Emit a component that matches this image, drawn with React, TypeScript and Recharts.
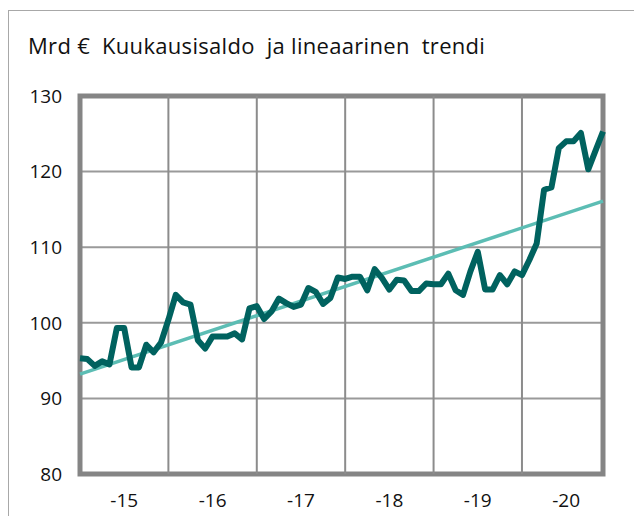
import {
  CartesianGrid,
  Line,
  LineChart,
  ReferenceArea,
  ReferenceLine,
  XAxis,
  YAxis,
} from "recharts";

// monthly balance, Jan 2015 .. Dec 2020 (bn €)
const balance2015 = [95.3, 95.2, 94.3, 94.9, 94.5, 99.3, 99.3, 94.1, 94.1, 97.1, 96.1, 97.4];
const balance2016 = [100.4, 103.7, 102.7, 102.4, 97.7, 96.6, 98.2, 98.2, 98.2, 98.6, 97.8, 101.9];
const balance2017 = [102.2, 100.5, 101.5, 103.2, 102.6, 102.1, 102.4, 104.6, 104.1, 102.5, 103.3, 106.0];
const balance2018 = [105.8, 106.1, 106.1, 104.3, 107.1, 105.9, 104.4, 105.7, 105.6, 104.2, 104.2, 105.2];
const balance2019 = [105.1, 105.1, 106.5, 104.3, 103.7, 106.8, 109.4, 104.4, 104.4, 106.3, 105.1, 106.8];
const balance2020 = [106.3, 108.3, 110.5, 117.6, 117.9, 123.1, 124.0, 124.0, 125.1, 120.3, 122.8, 125.3];

// linear trend, read at the first and last month
const trendStart = 93.2;
const trendEnd = 116.1;

const yearLabels = ["-15", "-16", "-17", "-18", "-19", "-20"];
const yearStarts = [12, 24, 36, 48, 60];
const yTicks = [80, 90, 100, 110, 120, 130];

const balance = [
  ...balance2015,
  ...balance2016,
  ...balance2017,
  ...balance2018,
  ...balance2019,
  ...balance2020,
];
const last = balance.length - 1;

const data = balance.map((v, i) => ({
  i,
  balance: v,
  trend: i === 0 ? trendStart : i === last ? trendEnd : null,
}));

// label sits in the middle of each year
const labelTicks = yearLabels.map((_, k) => k * 12 + 6);

const font = "'Open Sans', sans-serif";

export default function App() {
  return (
    <div style={{ position: "relative", width: 634, height: 508, overflow: "hidden" }}>
      <div
        style={{
          position: "absolute",
          left: 0,
          top: 2,
          width: 700,
          height: 600,
          border: "1px solid #a8a8a8",
        }}
      />
      <div
        style={{
          position: "absolute",
          left: 20,
          top: 22,
          fontFamily: font,
          fontSize: 22,
          letterSpacing: 0.3,
          color: "#111",
          whiteSpace: "pre",
        }}
      >
        {"Mrd €  Kuukausisaldo  ja lineaarinen  trendi"}
      </div>
      <div style={{ position: "absolute", left: 0, top: 0 }}>
        <LineChart
          width={634}
          height={508}
          data={data}
          margin={{ top: 88, right: 39, bottom: 12, left: 12 }}
        >
          <CartesianGrid vertical={false} stroke="#9a9a9a" strokeWidth={2} />
          {yearStarts.map((x) => (
            <ReferenceLine key={x} x={x} stroke="#8c8c8c" strokeWidth={2} />
          ))}
          <XAxis
            type="number"
            dataKey="i"
            domain={[0, last]}
            ticks={labelTicks}
            tickFormatter={(v: number) => yearLabels[(v - 6) / 12]}
            axisLine={false}
            tickLine={false}
            tickSize={0}
            tickMargin={20}
            height={30}
            tick={{ fill: "#111", fontSize: 19, fontFamily: font }}
          />
          <YAxis
            domain={[80, 130]}
            ticks={yTicks}
            axisLine={false}
            tickLine={false}
            tickSize={0}
            tickMargin={18}
            width={60}
            tick={{ fill: "#111", fontSize: 19, fontFamily: font }}
          />
          <Line
            type="linear"
            dataKey="trend"
            stroke="#5cbdb4"
            strokeWidth={3.5}
            dot={false}
            connectNulls
            isAnimationActive={false}
          />
          <Line
            type="linear"
            dataKey="balance"
            stroke="#00625f"
            strokeWidth={6}
            strokeLinejoin="round"
            dot={false}
            isAnimationActive={false}
          />
          <ReferenceArea
            x1={0}
            x2={last}
            y1={80}
            y2={130}
            fill="none"
            stroke="#858585"
            strokeWidth={5}
            ifOverflow="visible"
          />
        </LineChart>
      </div>
    </div>
  );
}
